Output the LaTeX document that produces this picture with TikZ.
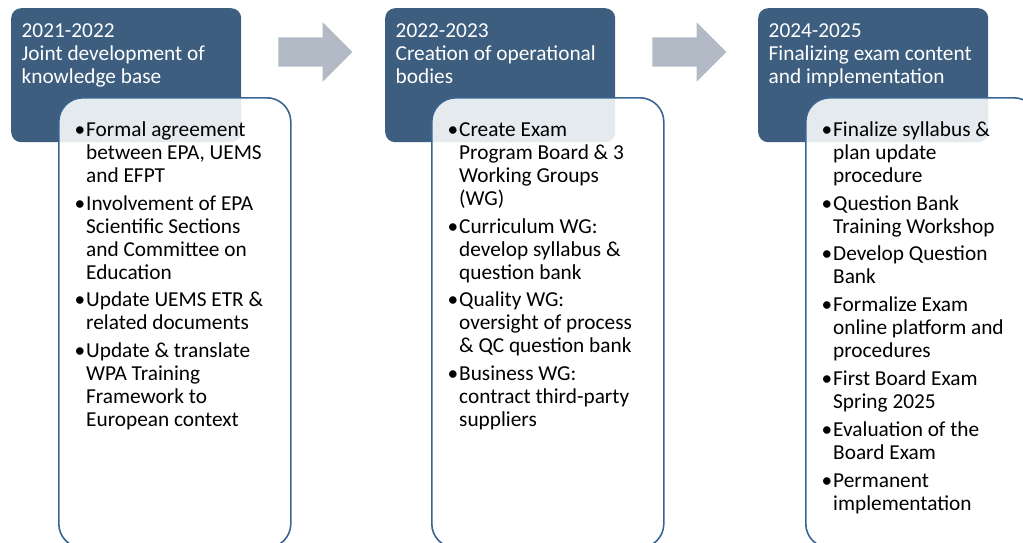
\documentclass[tikz,border=0pt]{standalone}
\usepackage{fontspec}
\setmainfont{Carlito}
\usetikzlibrary{positioning, shapes.arrows}

\definecolor{headblue}{HTML}{3D5E7F}
\definecolor{edgeblue}{HTML}{3A6592}
\definecolor{arrowgrey}{HTML}{B2BAC5}

\newcommand{\steplist}[1]{\begin{tabular}{@{}p{11.5pt}@{}l@{}}#1\end{tabular}}
\newcommand{\headlines}[1]{\begin{tabular}{@{}l@{}}#1\end{tabular}}

\tikzset{
  headbox/.style = {anchor=north west, rounded corners=10pt, fill=headblue,
    minimum width=230pt, minimum height=134pt, inner sep=0pt},
  bodybox/.style = {anchor=north west, rounded corners=24pt, draw=edgeblue,
    line width=1.6pt, fill=white, fill opacity=.87,
    minimum width=232pt, minimum height=450pt, inner sep=0pt},
  headtext/.style = {inner sep=0pt, text=white, font=\fontsize{21.3}{23}\selectfont},
  listtext/.style = {inner sep=0pt, text=black, font=\fontsize{21.3}{23}\selectfont},
  stepArrow/.style = {single arrow, fill=arrowgrey, minimum height=74pt,
    minimum width=59pt, single arrow head extend=15pt,
    single arrow tip angle=90, inner xsep=0pt, inner ysep=14.5pt}
}

\begin{document}
\begin{tikzpicture}[x=1pt, y=-1pt]
  \useasboundingbox (0,0) rectangle (1023,543);
  \clip (0,0) rectangle (1023,543);

  % year headers
  \node[headbox] (head1) at (11,8) {};
  \node[headbox] (head2) at (385,8) {};
  \node[headbox] (head3) at (758,8) {};

  \node[headtext] (title1) [below right=13pt and 10.5pt of head1.north west, anchor=north west]
    {\headlines{2021-2022\\Joint development of\\knowledge base}};
  \node[headtext] (title2) [below right=13pt and 10.5pt of head2.north west, anchor=north west]
    {\headlines{2022-2023\\Creation of operational\\bodies}};
  \node[headtext] (title3) [below right=13pt and 10.5pt of head3.north west, anchor=north west]
    {\headlines{2024-2025\\Finalizing exam content\\and implementation}};

  % arrows between phases
  \node[stepArrow] (arrow1) at (308,52) {};
  \node[stepArrow] (arrow2) at (682,52) {};

  % task boxes
  \node[bodybox] (body1) at (58,97) {};
  \node[bodybox] (body2) at (431,97) {};
  \node[bodybox] (body3) at (805,97) {};

  \node[listtext] (list1) [below right=23pt and 16.5pt of body1.north west, anchor=north west]
    {\steplist{%
      \textbullet & Formal agreement\\ & between EPA, UEMS\\ & and EFPT\\[4.8pt]
      \textbullet & Involvement of EPA\\ & Scientific Sections\\ & and Committee on\\ & Education\\[4.8pt]
      \textbullet & Update UEMS ETR \&\\ & related documents\\[4.8pt]
      \textbullet & Update \& translate\\ & WPA Training\\ & Framework to\\ & European context}};
  \node[listtext] (list2) [below right=23pt and 16.5pt of body2.north west, anchor=north west]
    {\steplist{%
      \textbullet & Create Exam\\ & Program Board \& 3\\ & Working Groups\\ & (WG)\\[4.8pt]
      \textbullet & Curriculum WG:\\ & develop syllabus \&\\ & question bank\\[4.8pt]
      \textbullet & Quality WG:\\ & oversight of process\\ & \& QC question bank\\[4.8pt]
      \textbullet & Business WG:\\ & contract third-party\\ & suppliers}};
  \node[listtext] (list3) [below right=23pt and 16.5pt of body3.north west, anchor=north west]
    {\steplist{%
      \textbullet & Finalize syllabus \&\\ & plan update\\ & procedure\\[4.8pt]
      \textbullet & Question Bank\\ & Training Workshop\\[4.8pt]
      \textbullet & Develop Question\\ & Bank\\[4.8pt]
      \textbullet & Formalize Exam\\ & online platform and\\ & procedures\\[4.8pt]
      \textbullet & First Board Exam\\ & Spring 2025\\[4.8pt]
      \textbullet & Evaluation of the\\ & Board Exam\\[4.8pt]
      \textbullet & Permanent\\ & implementation}};
\end{tikzpicture}
\end{document}
